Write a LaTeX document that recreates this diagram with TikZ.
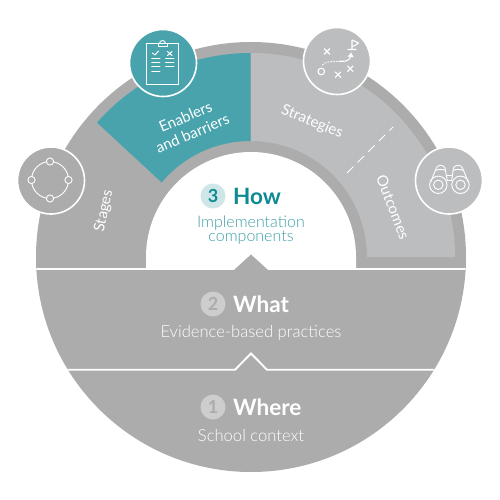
\documentclass[tikz,border=0pt]{standalone}
\usepackage{fontspec}
\setmainfont{Lato}[UprightFont=* Light,BoldFont=* Bold]
\newfontfamily\ringfont{Lato}
\definecolor{ringgray}{HTML}{ABACAB}
\definecolor{lightgray2}{HTML}{BCBDBE}
\definecolor{tealband}{HTML}{49A3AD}
\definecolor{tealdark}{HTML}{0E8A93}
\definecolor{teallight}{HTML}{CFE6E8}
\definecolor{tealtext}{HTML}{3E9FA8}
\definecolor{numgray}{HTML}{CDCDCD}
\tikzset{
 x=1pt,y=-1pt,
 wline/.style={draw=white,line width=0.9pt,line cap=round,line join=round},
 iconc/.style={circle,draw=white,line width=1.6pt,minimum size=67pt,inner sep=0pt},
 ringlabel/.style={text=white,font=\ringfont\fontsize{15}{18}\selectfont,align=center},
 headlabel/.style={anchor=west,font=\fontsize{22.5}{24}\selectfont\bfseries,inner sep=0pt},
 sublabel/.style={font=\fontsize{16.6}{15}\selectfont,align=center,inner sep=0pt},
 numdisc/.style={circle,minimum size=25pt,inner sep=0pt,font=\fontsize{18}{18}\selectfont\bfseries},
}
\begin{document}
\begin{tikzpicture}
\useasboundingbox (0,0) rectangle (500,500);
\fill[white] (0,0) rectangle (500,500);
% main disc
\fill[ringgray] (251,257) circle[radius=215];
% inner white half disc
\fill[white] plot[domain=0:180,samples=90] ({251+105*cos(\x)},{257-105*sin(\x)}) -- (146,268.5) -- (356,268.5) -- cycle;
% light band
\fill[lightgray2] plot[domain=0:90,samples=60] ({251+204*cos(\x)},{257-204*sin(\x)}) -- plot[domain=90:0,samples=60] ({251+116*cos(\x)},{257-116*sin(\x)}) -- cycle;
% teal band
\fill[tealband] plot[domain=90:138.8,samples=50] ({250.5+204*cos(\x)},{257-204*sin(\x)}) -- plot[domain=140:90,samples=50] ({250.5+116*cos(\x)},{257-116*sin(\x)}) -- cycle;
% separators
\begin{scope}
\clip (251,257) circle[radius=215];
\fill[white] (30,268) rectangle (470,270);
\fill[ringgray] (234,270) -- (251,254.5) -- (268,270) -- cycle;
\draw[white,line width=1.9pt,miter limit=10] (30,369.7) -- (235,369.7) -- (251,353.5) -- (267,369.7) -- (470,369.7);
\end{scope}
\draw[white,line width=0.8pt,dash pattern=on 9pt off 6pt] (347,173) -- (393,127);
% icon discs
\node[iconc,fill=tealband] (enabIcon) at (163,63) {};
\node[iconc,fill=ringgray] (stageIcon) at (51,180.5) {};
\node[iconc,fill=lightgray2] (stratIcon) at (337,61) {};
\node[iconc,fill=lightgray2] (outIcon) at (449,180.5) {};
% clipboard
\draw[wline] (146.5,43) rectangle (178.5,84);
\draw[wline] (159.5,43.5) arc[start angle=180,end angle=360,radius=3];
\draw[wline,fill=tealband] (158,43.5) rectangle (167.5,46.5);
\draw[wline,line width=1pt] (152.5,53) -- (155,55) -- (158.5,51);
\draw[wline,line width=1pt] (167.5,51.5) -- (172,55.5) (172,51.5) -- (167.5,55.5);
\foreach \yy in {58.3,62.5,66.7,71.3}{\draw[wline] (151.7,\yy) -- (160,\yy);}
\foreach \yy in {58.3,62.5,66.7}{\draw[wline] (165.5,\yy) -- (174,\yy);}
% stages icon
\draw[wline] (50,180) circle[radius=18.5];
\foreach \px/\py in {50/161.5,68.5/180,50/198.5,31.5/180}{\draw[wline,fill=ringgray] (\px,\py) circle[radius=3.6];}
% strategies icon
\foreach \px/\py in {327/51.5,338/74.7,350.3/68.7}{\draw[wline,line width=1.1pt] (\px-2.8,\py-2.8) -- (\px+2.8,\py+2.8) (\px-2.8,\py+2.8) -- (\px+2.8,\py-2.8);}
\draw[wline,line width=1.1pt] (321.3,71.5) circle[radius=3.3];
\draw[white,line width=1pt,dotted,line cap=round] (322.5,65) .. controls (325,62) and (330,61.3) .. (338,61.3);
\draw[wline,line width=1.1pt] (339,61.3) -- (343,61.3) .. controls (347,61.3) and (350,59.5) .. (350.7,56);
\fill[white] (347.7,56.5) -- (351.3,52.5) -- (353.5,57.3) -- cycle;
\draw[wline,line width=1.1pt] (348,49.5) -- (356,49.5) (352,49.5) -- (352,40) -- (358.5,43) -- (355,45.5) -- (352,46.5);
% binoculars
\foreach \sx in {438.3,460.5}{
 \draw[wline] (\sx,184.8) circle[radius=8.7];
 \draw[wline] (\sx,184.8) circle[radius=4.7];
}
\draw[wline] (430.7,182) -- (436.3,168) .. controls (437,164.5) and (444,164.5) .. (445,168) -- (447.2,180);
\draw[wline] (468.3,182) -- (462.5,168) .. controls (461.5,164.5) and (454.5,164.5) .. (453.5,168) -- (451.7,180);
\draw[wline] (435.5,170.5) .. controls (438,169) and (443,169) .. (445.5,170.5);
\draw[wline] (453,170.5) .. controls (455.5,169) and (460.5,169) .. (463.3,170.5);
\draw[wline] (446.5,175) -- (452.5,175) (447.2,180.7) -- (451.7,180.7);
% ring labels
\node[ringlabel,rotate=78] (stages) at (104,211) {Stages};
\node[ringlabel,rotate=23] (enablers) at (189,125) {Enablers\\and barriers};
\node[ringlabel,rotate=-22] (strategies) at (312,122) {Strategies};
\node[ringlabel,rotate=-69] (outcomes) at (393,207) {Outcomes};
% How
\node[numdisc,fill=teallight,text=tealdark] (n3) at (213,196) {3};
\node[headlabel,text=tealdark] (how) at (233,196) {How};
\node[sublabel,text=tealtext,font=\fontsize{16}{14.5}\selectfont] (howsub) at (251,230) {Implementation\\components};
% What
\node[numdisc,fill=numgray,text=ringgray] (n2) at (213,304) {2};
\node[headlabel,text=white] (what) at (233,304) {What};
\node[sublabel,text=white] (whatsub) at (251,333) {Evidence-based practices};
% Where
\node[numdisc,fill=numgray,text=ringgray] (n1) at (213,407) {1};
\node[headlabel,text=white] (where) at (233,407) {Where};
\node[sublabel,text=white] (wheresub) at (251,436) {School context};
\end{tikzpicture}
\end{document}
